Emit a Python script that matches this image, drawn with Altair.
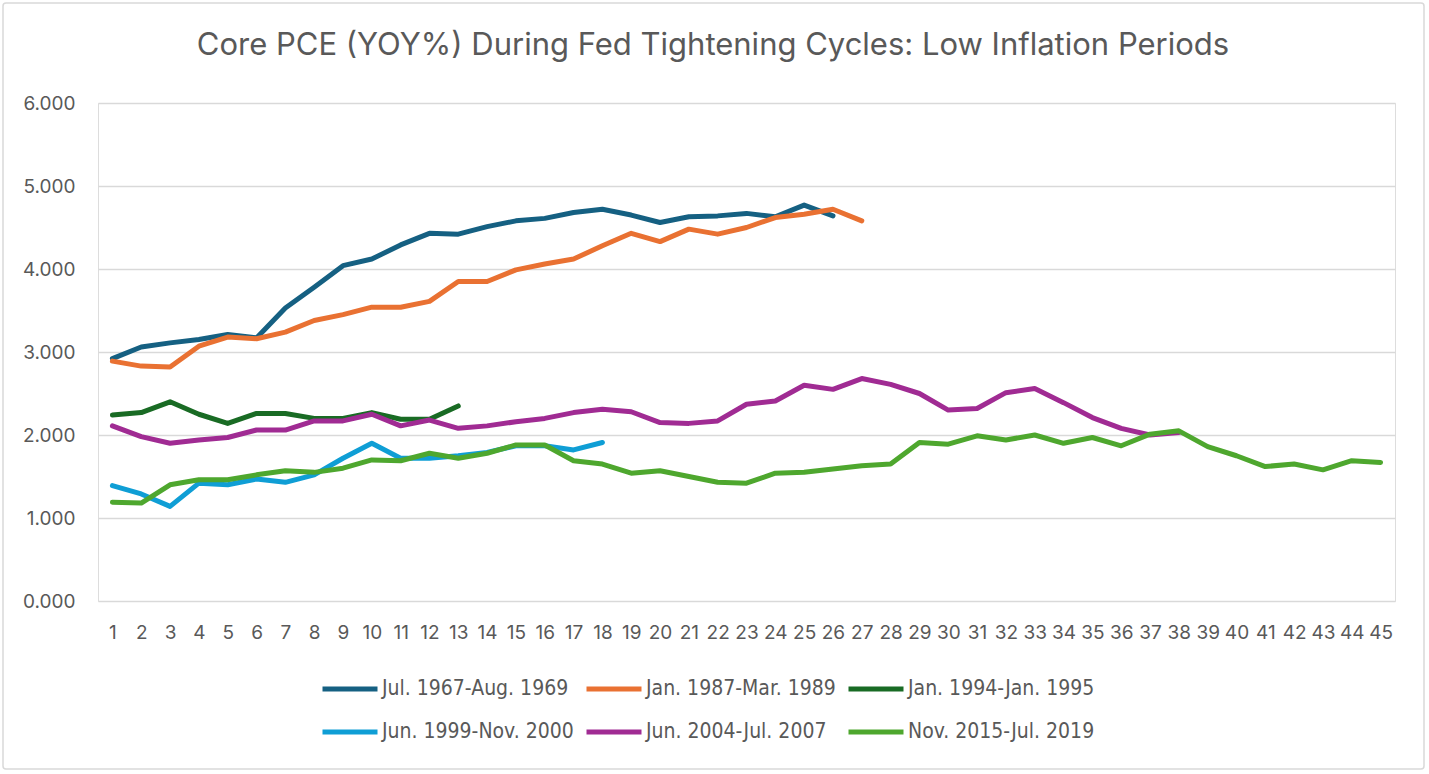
import altair as alt
import pandas as pd

# ---- data ----
title_text = "Core PCE (YOY%) During Fed Tightening Cycles: Low Inflation Periods"
series_names = [
    "Jul. 1967-Aug. 1969",
    "Jan. 1987-Mar. 1989",
    "Jan. 1994-Jan. 1995",
    "Jun. 1999-Nov. 2000",
    "Jun. 2004-Jul. 2007",
    "Nov. 2015-Jul. 2019",
]
series_colors = ["#156082", "#E97132", "#196B24", "#0F9ED5", "#A02B93", "#4EA72E"]

s1967 = [2.92, 3.06, 3.11, 3.15, 3.21, 3.17, 3.53, 3.78, 4.04, 4.12, 4.29, 4.43, 4.42,
         4.51, 4.58, 4.61, 4.68, 4.72, 4.65, 4.56, 4.63, 4.64, 4.67, 4.63, 4.77, 4.64]
s1987 = [2.89, 2.83, 2.82, 3.07, 3.18, 3.16, 3.24, 3.38, 3.45, 3.54, 3.54, 3.61, 3.85,
         3.85, 3.99, 4.06, 4.12, 4.28, 4.43, 4.33, 4.48, 4.42, 4.50, 4.62, 4.66, 4.72, 4.58]
s1994 = [2.24, 2.27, 2.40, 2.25, 2.14, 2.26, 2.26, 2.20, 2.20, 2.27, 2.19, 2.19, 2.35]
s1999 = [1.39, 1.29, 1.14, 1.42, 1.40, 1.47, 1.43, 1.52, 1.72, 1.90, 1.72, 1.72, 1.75,
         1.79, 1.87, 1.87, 1.82, 1.91]
s2004 = [2.11, 1.98, 1.90, 1.94, 1.97, 2.06, 2.06, 2.17, 2.17, 2.25, 2.11, 2.18, 2.08,
         2.11, 2.16, 2.20, 2.27, 2.31, 2.28, 2.15, 2.14, 2.17, 2.37, 2.41, 2.60, 2.55,
         2.68, 2.61, 2.50, 2.30, 2.32, 2.51, 2.56, 2.39, 2.21, 2.08, 2.00, 2.03]
s2015 = [1.19, 1.18, 1.40, 1.46, 1.46, 1.52, 1.57, 1.55, 1.60, 1.70, 1.69, 1.78, 1.72,
         1.78, 1.88, 1.88, 1.69, 1.65, 1.54, 1.57, 1.50, 1.43, 1.42, 1.54, 1.55, 1.59,
         1.63, 1.65, 1.91, 1.89, 1.99, 1.94, 2.00, 1.90, 1.97, 1.87, 2.01, 2.05, 1.86,
         1.75, 1.62, 1.65, 1.58, 1.69, 1.67]

x_ticks = list(range(1, 46))
y_ticks = [0, 1, 2, 3, 4, 5, 6]

all_series = [s1967, s1987, s1994, s1999, s2004, s2015]
rows = []
for name, vals in zip(series_names, all_series):
    for i, v in enumerate(vals):
        rows.append({"month": i + 1, "value": v, "series": name})
df = pd.DataFrame(rows)

FONT = "Inter"
GRAY = "#595959"

W, H = 1297, 498

lines = alt.Chart(df).mark_line(
    strokeWidth=5, strokeCap="round", strokeJoin="round"
).encode(
    x=alt.X("month:Q",
            scale=alt.Scale(domain=[0.5, 45.5], nice=False, zero=False),
            axis=alt.Axis(values=x_ticks, title=None, grid=False, ticks=False,
                          domain=False, labelPadding=22, labelFontSize=19,
                          labelColor=GRAY, labelFont=FONT, labelFlush=False,
                          labelOverlap=False)),
    y=alt.Y("value:Q",
            scale=alt.Scale(domain=[0, 6], nice=False),
            axis=alt.Axis(values=y_ticks, format=".3f", title=None, ticks=False,
                          domain=False, labelPadding=23, labelFontSize=19,
                          labelColor=GRAY, labelFont=FONT,
                          gridColor="#D9D9D9", gridWidth=1.5)),
    color=alt.Color("series:N",
                    scale=alt.Scale(domain=series_names, range=series_colors),
                    legend=alt.Legend(
                        title=None, orient="none", direction="horizontal",
                        columns=3, legendX=222, legendY=556,
                        symbolType="stroke", symbolSize=3025, symbolStrokeWidth=5,
                        labelFontSize=21, labelColor=GRAY,
                        labelFont="Liberation Sans Narrow, DejaVu Sans Condensed, sans-serif",
                        labelLimit=400, labelOffset=2, rowPadding=3,
                        columnPadding=2)),
)

frame = pd.DataFrame({"title": [title_text]})

border = alt.Chart(frame).mark_rect(
    fill=None, stroke="#D9D9D9", strokeWidth=1.5, cornerRadius=3
).encode(
    x=alt.value(-95), x2=alt.value(W + 29),
    y=alt.value(-100), y2=alt.value(H + 168),
)

title = alt.Chart(frame).mark_text(
    font=FONT, fontSize=31, color=GRAY, align="center", baseline="middle"
).encode(
    text="title:N",
    x=alt.value(615), y=alt.value(-57),
)

chart = alt.layer(border, lines, title).properties(
    width=W, height=H,
    autosize=alt.AutoSizeParams(type="none"),
    padding={"left": 98, "top": 103, "right": 34, "bottom": 173},
).configure_view(stroke=None).configure(background="white")

chart.save("out.html", embed_options={"renderer": "svg", "actions": False})
